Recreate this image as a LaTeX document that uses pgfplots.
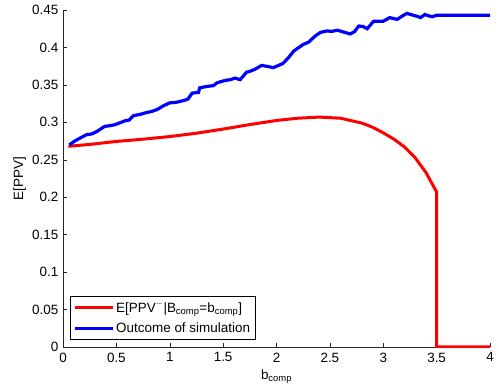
\documentclass[border=0pt]{standalone}
\usepackage{pgfplots}
\pgfplotsset{compat=1.18}
\usepackage{fontspec}
\setmainfont{Liberation Sans}
\begin{document}
\fontsize{13.5}{15}\selectfont
\begin{tikzpicture}
\begin{axis}[
  scale only axis,
  width=427bp, height=337bp,
  xmin=0, xmax=4, ymin=0, ymax=0.45,
  axis lines*=left,
  axis line style={-, black!85},
  tick align=inside,
  major tick length=4bp,
  tick style={black!85, line width=0.5bp},
  xtick={0,0.5,...,4},
  ytick={0,0.05,...,0.45},
  xticklabels={0,0.5,1,1.5,2,2.5,3,3.5,4},
  yticklabels={0,0.05,0.1,0.15,0.2,0.25,0.3,0.35,0.4,0.45},
  /pgf/number format/assume math mode=true,
  ticklabel style={font=\fontsize{13.5}{15}\selectfont},
  xticklabel style={yshift=-1bp},
  xlabel={b\textsubscript{comp}},
  ylabel={E[PPV]},
  label style={font=\fontsize{13.5}{15}\selectfont},
  xlabel style={yshift=2bp},
  ylabel style={yshift=-3bp},
  legend style={at={(0.016,0.02)}, anchor=south west, draw=black, line width=0.8bp,
    font=\fontsize{13.5}{15}\selectfont, inner xsep=3bp, inner ysep=3bp, row sep=5bp},
  legend cell align=left,
  legend image code/.code={\draw[#1, line width=3bp] (0bp,0bp) -- (38bp,0bp);},
]
\addplot[red, line width=3bp] coordinates {
(0.05,0.268) (0.25,0.2705) (0.5,0.2745) (0.75,0.2775) (1.0,0.281) (1.25,0.2855)
(1.5,0.291) (1.75,0.297) (2.0,0.3025) (2.2,0.3055) (2.4,0.307) (2.6,0.3055)
(2.8,0.299) (2.9,0.2935) (3.0,0.286) (3.1,0.2775) (3.2,0.267) (3.3,0.2525)
(3.4,0.233) (3.5,0.207) (3.5,0) (4.0,0)
};
\addlegendentry{E[PPV\textsuperscript{$-$}|B\textsubscript{comp}=b\textsubscript{comp}]}
\addplot[blue, line width=3.2bp] coordinates {
(0.06,0.270) (0.11,0.275) (0.16,0.279) (0.22,0.2835) (0.27,0.2845) (0.32,0.288) (0.39,0.2946) (0.44,0.2955) (0.49,0.297)
(0.58,0.302) (0.62,0.303) (0.66,0.309) (0.72,0.3105) (0.78,0.313) (0.83,0.3145) (0.88,0.317) (0.94,0.322) (1.0,0.326)
(1.05,0.3265) (1.10,0.328) (1.14,0.3295) (1.17,0.331) (1.21,0.339) (1.27,0.340) (1.28,0.346) (1.35,0.348)
(1.41,0.349) (1.44,0.3525) (1.47,0.354) (1.52,0.356) (1.57,0.357) (1.61,0.359) (1.66,0.357) (1.72,0.367)
(1.75,0.368) (1.80,0.371) (1.86,0.376) (1.92,0.3745) (1.97,0.373) (2.06,0.3786) (2.11,0.386) (2.16,0.395) (2.25,0.404)
(2.30,0.407) (2.33,0.411) (2.37,0.416) (2.41,0.420) (2.47,0.422) (2.52,0.4215) (2.57,0.423) (2.63,0.4205) (2.69,0.418)
(2.73,0.421) (2.77,0.4286) (2.81,0.428) (2.85,0.425) (2.91,0.435) (3.00,0.435) (3.06,0.4398) (3.13,0.4375)
(3.18,0.442) (3.22,0.4455) (3.28,0.443) (3.32,0.4415) (3.35,0.4398) (3.39,0.444) (3.43,0.442) (3.46,0.441) (3.50,0.443)
(4.0,0.443)
};
\addlegendentry{Outcome of simulation}
\end{axis}
\pgfresetboundingbox
\path[use as bounding box] ([shift={(-63bp,-42bp)}]current axis.south west) rectangle ([shift={(9bp,10bp)}]current axis.north east);
\end{tikzpicture}
\end{document}
